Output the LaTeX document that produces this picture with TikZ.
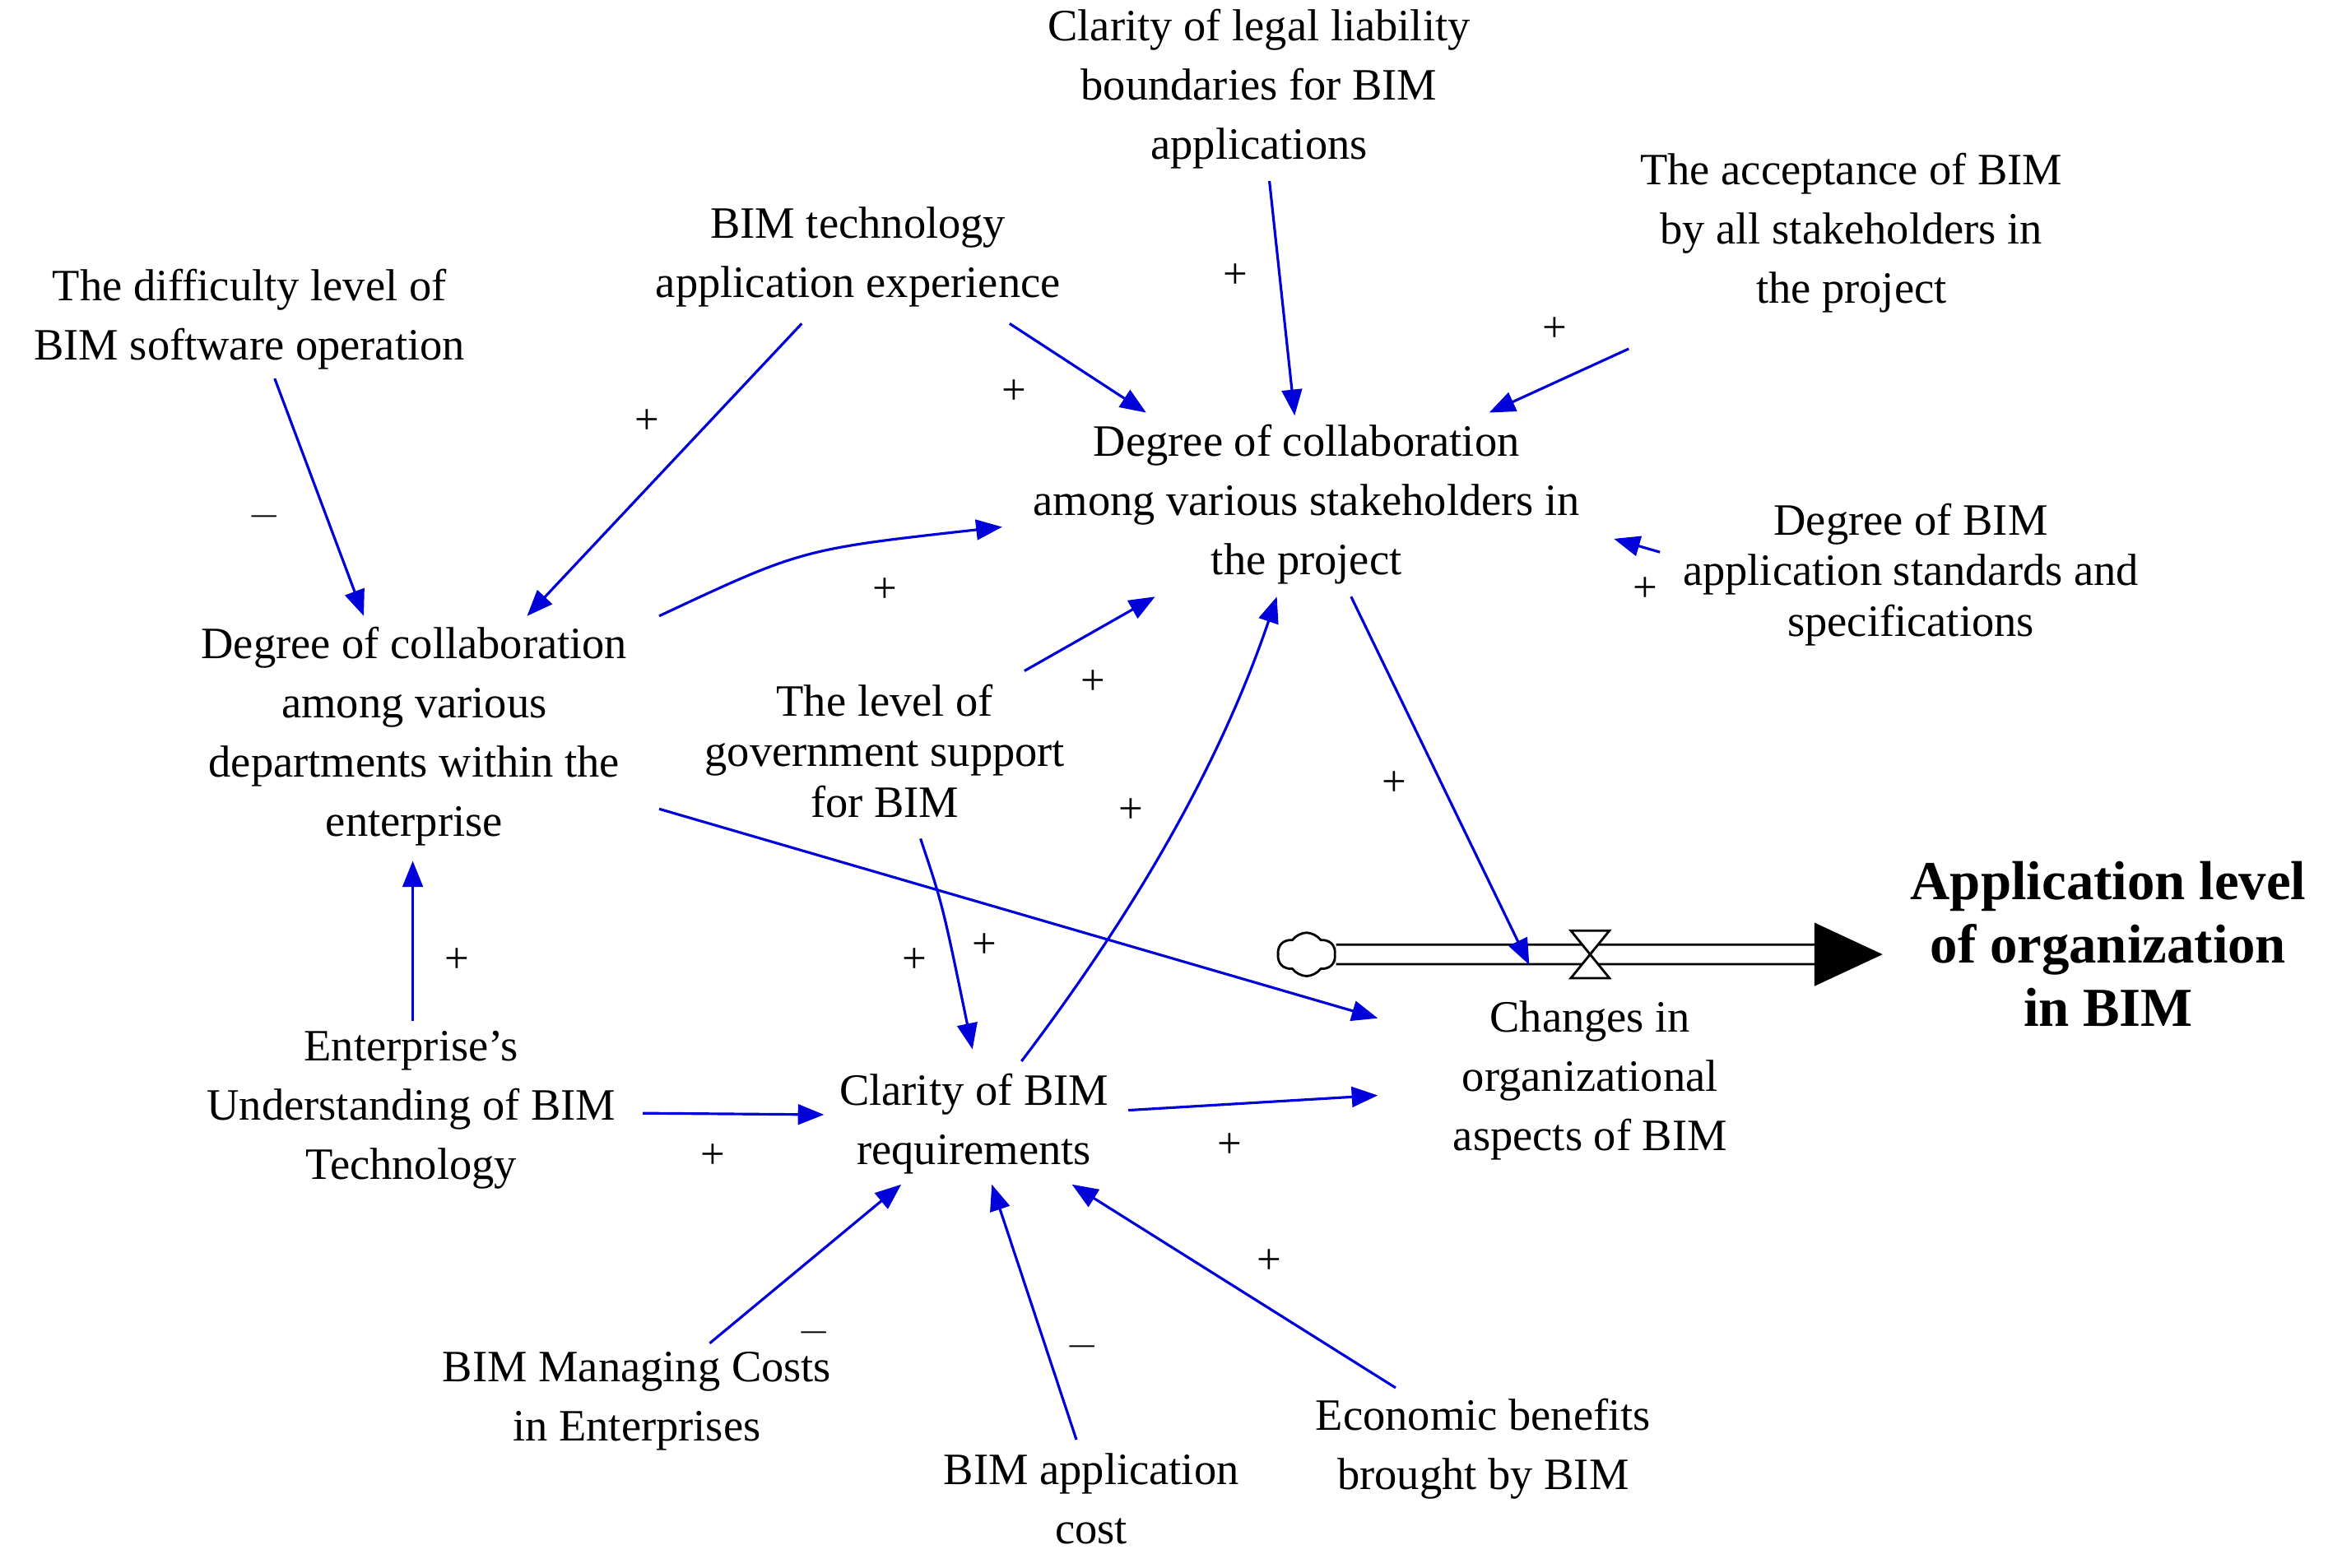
\documentclass[tikz,border=0pt]{standalone}
\usepackage{fontspec}
\setmainfont{Liberation Serif}
\usetikzlibrary{arrows.meta,shapes.symbols}
\begin{document}
\begin{tikzpicture}[x=0.01804cm,y=-0.01804cm,
  lab/.style={align=center,font=\fontsize{15.5}{20.5}\selectfont,inner sep=0pt},
  sg/.style={font=\fontsize{15}{15}\selectfont,inner sep=0pt},
  arr/.style={-{Triangle[length=9pt,width=7pt]},blue!85!black,line width=0.9pt}]
\useasboundingbox (0,0) rectangle (1568,1056);
\node[lab] (legal) at (848,60) {Clarity of legal liability\\boundaries for BIM\\applications};
\node[lab] (accept) at (1247,157) {The acceptance of BIM\\by all stakeholders in\\the project};
\node[lab] (tech) at (578,173) {BIM technology\\application experience};
\node[lab] (diff) at (168,215) {The difficulty level of\\BIM software operation};
\node[lab] (collabP) at (880,340) {Degree of collaboration\\among various stakeholders in\\the project};
\node[lab,font=\fontsize{15.5}{17.5}\selectfont] (std) at (1287,387) {Degree of BIM\\application standards and\\specifications};
\node[lab] (collabD) at (279,496) {Degree of collaboration\\among various\\departments within the\\enterprise};
\node[lab,font=\fontsize{15.5}{17.5}\selectfont] (gov) at (596,506) {The level of\\government support\\for BIM};
\node[lab,font=\bfseries\fontsize{19}{22}\selectfont] (app) at (1420,636) {Application level\\of organization\\in BIM};
\node[lab] (chg) at (1071,728) {Changes in\\organizational\\aspects of BIM};
\node[lab] (und) at (277,748) {Enterprise's\\Understanding of BIM\\Technology};
\node[lab] (clar) at (656,757) {Clarity of BIM\\requirements};
\node[lab] (mng) at (429,944) {BIM Managing Costs\\in Enterprises};
\node[lab] (cost) at (735,1010) {BIM application\\cost};
\node[lab] (eco) at (999,976) {Economic benefits\\brought by BIM};
% flow
\node[cloud,draw,cloud puffs=6,cloud puff arc=110,minimum width=20pt,minimum height=15pt,inner sep=0pt,line width=0.8pt] (cl) at (880,643) {};
\coordinate (v) at (1071,643);
\coordinate (fe) at (1268,643);
\coordinate (fb) at (1222,643);
\draw[line width=0.8pt,double distance=6pt] (cl.east) -- (fb);
\fill (fb) -- ([yshift=-11]fb) -- (fe) -- ([yshift=11]fb) -- cycle;
\draw[line width=0.8pt,fill=white] ([shift={(-13,-16)}]v) -- ([shift={(13,-16)}]v) -- ([shift={(-13,16)}]v) -- ([shift={(13,16)}]v) -- cycle;
% arrows
\draw[arr] ([shift={(17,40)}]diff.center) -- ([shift={(-34,-81)}]collabD.center);
\draw[arr] ([shift={(-38,45)}]tech.center) -- ([shift={(76,-81)}]collabD.center);
\draw[arr] ([shift={(102,45)}]tech.center) -- ([shift={(-108,-62)}]collabP.center);
\draw[arr] ([shift={(7,62)}]legal.center) -- ([shift={(-8,-60)}]collabP.center);
\draw[arr] ([shift={(-150,78)}]accept.center) -- ([shift={(123,-62)}]collabP.center);
\draw[arr] ([shift={(-169,-15)}]std.center) -- ([shift={(207,23)}]collabP.center);
\draw[arr] ([shift={(165,-81)}]collabD.center) .. controls (540,370) .. ([shift={(-205,15)}]collabP.center);
\draw[arr] ([shift={(94,-54)}]gov.center) -- ([shift={(-102,62)}]collabP.center);
\draw[arr] ([shift={(32,-42)}]clar.center) .. controls (760,620) and (820,520) .. ([shift={(-20,62)}]collabP.center);
\draw[arr] ([shift={(30,62)}]collabP.center) -- ([shift={(-41,-78)}]chg.center);
\draw[arr] ([shift={(165,49)}]collabD.center) -- ([shift={(-143,-42)}]chg.center);
\draw[arr] ([shift={(24,59)}]gov.center) .. controls (635,610) .. ([shift={(-1,-50)}]clar.center);
\draw[arr] ([shift={(1,-60)}]und.center) -- ([shift={(-1,84)}]collabD.center);
\draw[arr] ([shift={(156,2)}]und.center) -- ([shift={(-101,-6)}]clar.center);
\draw[arr] ([shift={(104,-9)}]clar.center) -- ([shift={(-143,10)}]chg.center);
\draw[arr] ([shift={(49,-39)}]mng.center) -- ([shift={(-49,41)}]clar.center);
\draw[arr] ([shift={(-10,-40)}]cost.center) -- ([shift={(12,41)}]clar.center);
\draw[arr] ([shift={(-59,-41)}]eco.center) -- ([shift={(66,41)}]clar.center);
% signs
\node[sg] (s1) at (178,348) {$-$};
\node[sg] (s2) at (436,284) {+};
\node[sg] (s3) at (683,264) {+};
\node[sg] (s4) at (832,186) {+};
\node[sg] (s5) at (1047,222) {+};
\node[sg] (s6) at (1108,397) {+};
\node[sg] (s7) at (596,398) {+};
\node[sg] (s8) at (736,460) {+};
\node[sg] (s9) at (762,546) {+};
\node[sg] (s10) at (939,528) {+};
\node[sg] (s11) at (663,637) {+};
\node[sg] (s12) at (616,647) {+};
\node[sg] (s13) at (308,647) {+};
\node[sg] (s14) at (480,779) {+};
\node[sg] (s15) at (828,772) {+};
\node[sg] (s16) at (548,898) {$-$};
\node[sg] (s17) at (729,907) {$-$};
\node[sg] (s18) at (855,850) {+};
\end{tikzpicture}
\end{document}
